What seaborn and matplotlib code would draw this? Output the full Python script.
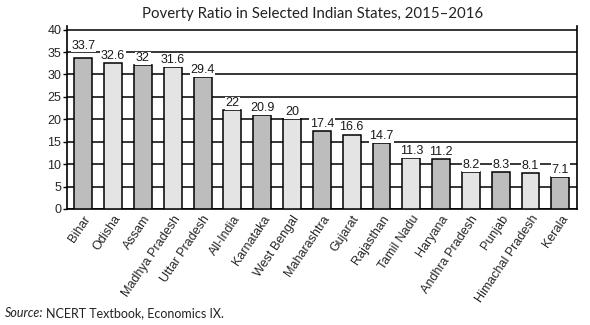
import matplotlib
matplotlib.use("Agg")
import matplotlib.pyplot as plt
import seaborn as sns
import pandas as pd

states = ["Bihar", "Odisha", "Assam", "Madhya Pradesh", "Uttar Pradesh", "All-India",
          "Karnataka", "West Bengal", "Maharashtra", "Gujarat", "Rajasthan", "Tamil Nadu",
          "Haryana", "Andhra Pradesh", "Punjab", "Himachal Pradesh", "Kerala"]
poverty_ratio = [33.7, 32.6, 32, 31.6, 29.4, 22, 20.9, 20, 17.4, 16.6, 14.7, 11.3,
                 11.2, 8.2, 8.3, 8.1, 7.1]
value_labels = ["33.7", "32.6", "32", "31.6", "29.4", "22", "20.9", "20", "17.4", "16.6",
                "14.7", "11.3", "11.2", "8.2", "8.3", "8.1", "7.1"]
y_ticks = [0, 5, 10, 15, 20, 25, 30, 35, 40]

sns.set_theme(style="white")
plt.rcParams["font.family"] = ["Liberation Sans", "DejaVu Sans"]

df = pd.DataFrame({"state": states, "ratio": poverty_ratio})
shades = ["#bdbdbd" if i % 2 == 0 else "#e4e4e4" for i in range(len(states))]

fig = plt.figure(figsize=(5.9, 3.25), dpi=100)
ax = fig.add_axes([0.1135, 0.357, 0.864, 0.563])

sns.barplot(data=df, x="state", y="ratio", hue="state", palette=shades, legend=False,
            width=0.6, edgecolor="black", linewidth=1.1, ax=ax, zorder=3)

ax.set_ylim(0, 40.8)
ax.set_xlim(-0.55, len(states) - 0.45)
ax.set_yticks(y_ticks)
ax.yaxis.grid(True, color="black", linewidth=1.1, zorder=0)
ax.xaxis.grid(False)
for s in ["left", "bottom", "right"]:
    ax.spines[s].set_visible(True)
    ax.spines[s].set_color("black")
    ax.spines[s].set_linewidth(1.2)
ax.spines["top"].set_visible(False)

ax.tick_params(axis="y", direction="out", length=3, width=1, color="black",
               labelsize=9, pad=1, left=True)
ax.tick_params(axis="x", length=0, labelsize=9, pad=3)
for lbl in ax.get_xticklabels():
    lbl.set_rotation(56)
    lbl.set_ha("right")
    lbl.set_rotation_mode("anchor")
ax.set_xlabel("")
ax.set_ylabel("")

# value labels sit just above each bar on a white patch that hides the grid
for i, (v, t) in enumerate(zip(poverty_ratio, value_labels)):
    lift = 1.4 if i == 0 else 0.25
    ax.text(i, v + lift, t, ha="center", va="bottom", fontsize=9, color="#1a1a1a",
            zorder=4, bbox=dict(boxstyle="square,pad=0.05", facecolor="white",
                                edgecolor="none"))

fig.text(0.53, 0.958, "Poverty Ratio in Selected Indian States, 2015\u20132016",
         ha="center", va="center", fontsize=10.8, family=["Lato", "DejaVu Sans"],
         color="#222222")
fig.text(0.008, 0.037, "Source:", ha="left", va="center", fontsize=9,
         family=["Lato", "DejaVu Sans"], style="italic", color="#222222")
fig.text(0.078, 0.037, "NCERT Textbook, Economics IX.", ha="left", va="center",
         fontsize=9, family=["Lato", "DejaVu Sans"], color="#222222")

fig.savefig("out.png", dpi=100, facecolor="white")
